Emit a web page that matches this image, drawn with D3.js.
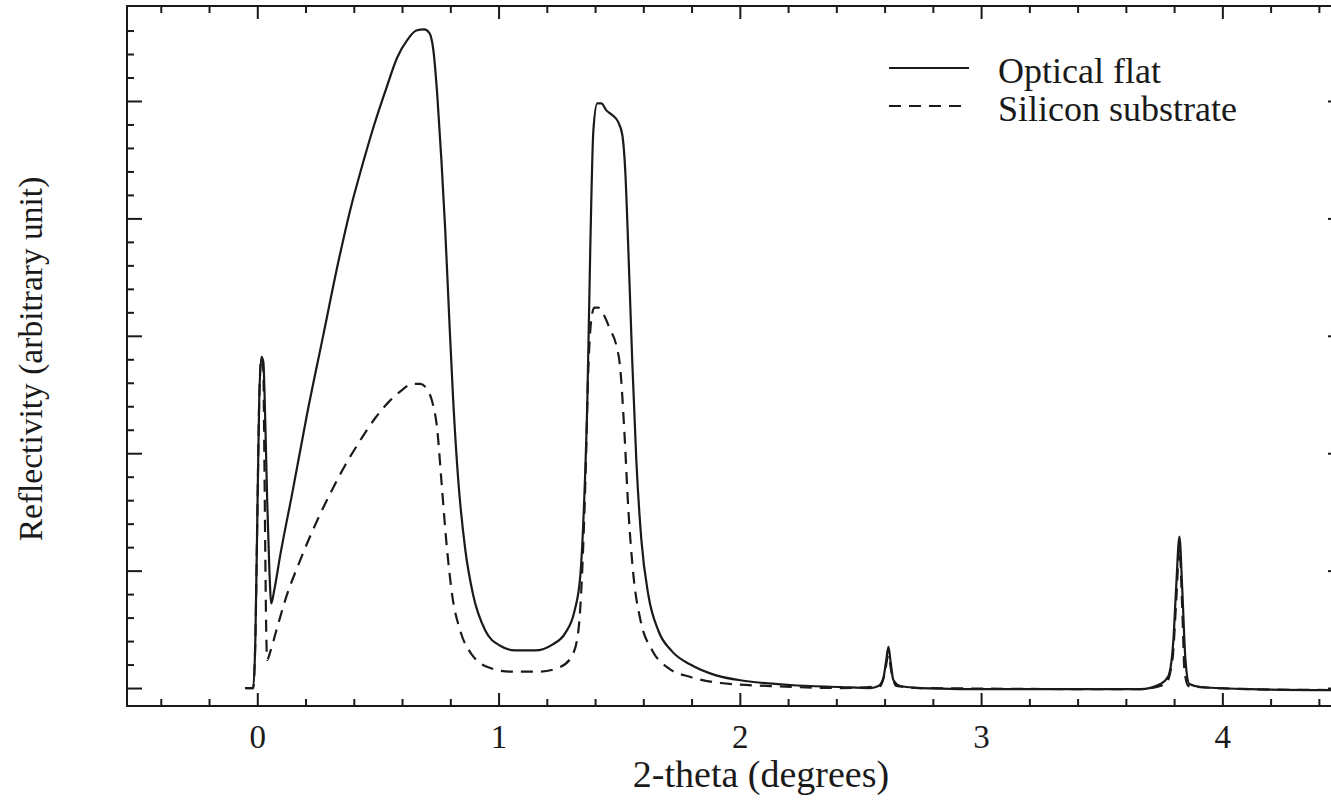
<!DOCTYPE html>
<html>
<head>
<meta charset="utf-8">
<script src="https://cdn.jsdelivr.net/npm/d3@7"></script>
<style>
  html, body { margin: 0; padding: 0; background: #fff; }
  svg { display: block; }
</style>
</head>
<body>
<svg id="chart" width="1331" height="802"></svg>
<script>
// X-ray reflectivity scans, 2-theta in degrees vs reflectivity (arbitrary unit)
const opticalTheta = [-0.050, -0.017, -0.008, 0.000, 0.008, 0.017, 0.025, 0.033, 0.041, 0.050, 0.058, 0.070, 0.095, 0.145, 0.207, 0.274, 0.336, 0.385, 0.435, 0.485, 0.535, 0.580, 0.622, 0.659, 0.692, 0.713, 0.730, 0.746, 0.763, 0.779, 0.796, 0.812, 0.833, 0.862, 0.895, 0.945, 1.007, 1.069, 1.152, 1.223, 1.277, 1.314, 1.339, 1.355, 1.368, 1.380, 1.393, 1.409, 1.426, 1.447, 1.471, 1.496, 1.513, 1.525, 1.538, 1.554, 1.571, 1.592, 1.621, 1.662, 1.720, 1.795, 1.898, 2.023, 2.209, 2.417, 2.541, 2.574, 2.595, 2.607, 2.616, 2.624, 2.636, 2.665, 2.748, 3.080, 3.660, 3.743, 3.776, 3.797, 3.809, 3.822, 3.834, 3.847, 3.863, 3.909, 4.116, 4.452];
const opticalRefl = [0, 0, 0.41, 1.43, 2.45, 2.82, 2.78, 2.28, 1.60, 1.01, 0.72, 0.83, 1.13, 1.66, 2.34, 3.01, 3.63, 4.07, 4.45, 4.80, 5.11, 5.37, 5.52, 5.60, 5.61, 5.58, 5.43, 5.05, 4.50, 3.90, 3.13, 2.45, 1.77, 1.18, 0.79, 0.49, 0.36, 0.32, 0.32, 0.37, 0.47, 0.65, 0.96, 1.60, 2.45, 3.73, 4.75, 4.98, 4.98, 4.92, 4.88, 4.82, 4.71, 4.41, 3.73, 2.79, 1.94, 1.26, 0.79, 0.49, 0.31, 0.20, 0.11, 0.06, 0.026, 0.009, 0, 0.017, 0.085, 0.24, 0.35, 0.24, 0.07, 0.017, 0, -0.01, -0.01, 0.034, 0.10, 0.41, 0.88, 1.29, 0.83, 0.24, 0.034, 0.009, -0.01, -0.017];

const siliconTheta = [-0.050, -0.017, -0.008, 0.000, 0.008, 0.017, 0.025, 0.029, 0.033, 0.037, 0.041, 0.054, 0.079, 0.116, 0.178, 0.240, 0.303, 0.365, 0.427, 0.489, 0.551, 0.601, 0.642, 0.676, 0.705, 0.725, 0.746, 0.763, 0.783, 0.808, 0.841, 0.891, 0.966, 1.049, 1.173, 1.256, 1.306, 1.331, 1.347, 1.360, 1.372, 1.384, 1.397, 1.413, 1.438, 1.463, 1.488, 1.505, 1.521, 1.538, 1.559, 1.588, 1.637, 1.704, 1.795, 1.919, 2.126, 2.417, 2.582, 2.599, 2.616, 2.628, 2.649, 2.748, 3.660, 3.764, 3.793, 3.809, 3.822, 3.834, 3.843, 3.859, 4.116, 4.452];
const siliconRefl = [0, 0, 0.41, 1.43, 2.45, 2.81, 2.71, 2.03, 1.18, 0.49, 0.24, 0.31, 0.49, 0.75, 1.09, 1.39, 1.66, 1.90, 2.11, 2.30, 2.45, 2.54, 2.59, 2.59, 2.54, 2.44, 2.20, 1.77, 1.26, 0.79, 0.49, 0.28, 0.17, 0.14, 0.14, 0.18, 0.28, 0.49, 1.01, 1.77, 2.71, 3.13, 3.24, 3.24, 3.17, 3.05, 2.92, 2.71, 2.20, 1.52, 0.96, 0.58, 0.32, 0.17, 0.094, 0.043, 0.017, 0, 0.017, 0.11, 0.28, 0.14, 0.017, 0, -0.01, 0.034, 0.24, 0.75, 1.19, 0.66, 0.15, 0.017, -0.01, -0.017];

const xTickLabels = ["0", "1", "2", "3", "4"];
const seriesNames = ["Optical flat", "Silicon substrate"];

const serif = '"Liberation Serif", "Times New Roman", Times, Tinos, "Nimbus Roman", "DejaVu Serif", "Noto Serif", FreeSerif, serif';
const svg = d3.select("#chart").style("font-family", serif);
const ink = "#1a1a1a";

const x = d3.scaleLinear().domain([-0.54, 4.5]).range([127, 1343]);
const y = d3.scaleLinear().domain([-0.153, 5.809]).range([706, 6]);

const xMajor = xTickLabels.map(Number);
const xMinor = d3.range(-0.4, 4.5, 0.2).map(v => +v.toFixed(1)).filter(v => Math.abs(v - Math.round(v)) > 1e-6);
const yMajor = d3.range(0, 6, 1);
const yMinor = d3.range(0, 5.8, 0.2).map(v => +v.toFixed(1)).filter(v => Math.abs(v - Math.round(v)) > 1e-6);

function styleAxis(g) {
  g.attr("font-family", null).style("font-family", serif);
  g.select(".domain").remove();
  g.selectAll(".tick line").attr("stroke", ink).attr("stroke-width", 2);
}

// bottom axis: inward ticks with labels
svg.append("g").attr("transform", `translate(0,${y.range()[0]})`)
  .call(d3.axisBottom(x).tickValues(xMajor).tickSizeInner(-13).tickSizeOuter(0).tickPadding(19)
    .tickFormat((d, i) => xTickLabels[i]))
  .call(styleAxis)
  .call(g => g.selectAll(".tick text").attr("font-size", 33).attr("fill", ink)
    .style("font-family", serif));
svg.append("g").attr("transform", `translate(0,${y.range()[0]})`)
  .call(d3.axisBottom(x).tickValues(xMinor).tickSizeInner(-7).tickSizeOuter(0).tickFormat(""))
  .call(styleAxis);

// top axis
svg.append("g").attr("transform", `translate(0,${y.range()[1]})`)
  .call(d3.axisTop(x).tickValues(xMajor).tickSizeInner(-13).tickSizeOuter(0).tickFormat(""))
  .call(styleAxis);
svg.append("g").attr("transform", `translate(0,${y.range()[1]})`)
  .call(d3.axisTop(x).tickValues(xMinor).tickSizeInner(-7).tickSizeOuter(0).tickFormat(""))
  .call(styleAxis);

// left axis
svg.append("g").attr("transform", `translate(${x.range()[0]},0)`)
  .call(d3.axisLeft(y).tickValues(yMajor).tickSizeInner(-15).tickSizeOuter(0).tickFormat(""))
  .call(styleAxis);
svg.append("g").attr("transform", `translate(${x.range()[0]},0)`)
  .call(d3.axisLeft(y).tickValues(yMinor).tickSizeInner(-7).tickSizeOuter(0).tickFormat(""))
  .call(styleAxis);

// right axis
svg.append("g").attr("transform", `translate(${x.range()[1]},0)`)
  .call(d3.axisRight(y).tickValues(yMajor).tickSizeInner(-15).tickSizeOuter(0).tickFormat(""))
  .call(styleAxis);
svg.append("g").attr("transform", `translate(${x.range()[1]},0)`)
  .call(d3.axisRight(y).tickValues(yMinor).tickSizeInner(-7).tickSizeOuter(0).tickFormat(""))
  .call(styleAxis);

// frame
svg.append("rect")
  .attr("x", x.range()[0]).attr("y", y.range()[1])
  .attr("width", x.range()[1] - x.range()[0]).attr("height", y.range()[0] - y.range()[1])
  .attr("fill", "none").attr("stroke", ink).attr("stroke-width", 2);

// curves
const line = d3.line().x(d => x(d[0])).y(d => y(d[1])).curve(d3.curveMonotoneX);
const optical = opticalTheta.map((t, i) => [t, opticalRefl[i]]);
const silicon = siliconTheta.map((t, i) => [t, siliconRefl[i]]);

svg.append("path").datum(silicon).attr("d", line)
  .attr("fill", "none").attr("stroke", ink).attr("stroke-width", 2.2)
  .attr("stroke-dasharray", "12,8").attr("stroke-linejoin", "round");
svg.append("path").datum(optical).attr("d", line)
  .attr("fill", "none").attr("stroke", ink).attr("stroke-width", 2.2)
  .attr("stroke-linejoin", "round");

// legend
const legend = svg.append("g");
[["none", 68], ["12,8", 106]].forEach(([dash, ly], i) => {
  legend.append("line").attr("x1", 889).attr("x2", 969).attr("y1", ly).attr("y2", ly)
    .attr("stroke", ink).attr("stroke-width", 2)
    .attr("stroke-dasharray", dash === "none" ? null : dash);
  legend.append("text").attr("x", 998).attr("y", ly + 15)
    .attr("font-size", 36).style("font-family", serif).attr("fill", ink)
    .text(seriesNames[i]);
});

// axis titles
svg.append("text").attr("x", 761).attr("y", 787)
  .attr("text-anchor", "middle").attr("font-size", 38)
  .style("font-family", serif).attr("fill", ink)
  .text("2-theta (degrees)");
svg.append("text")
  .attr("transform", "translate(42,359) rotate(-90)")
  .attr("text-anchor", "middle").attr("font-size", 33.5)
  .style("font-family", serif).attr("fill", ink)
  .text("Reflectivity (arbitrary unit)");
</script>
</body>
</html>
